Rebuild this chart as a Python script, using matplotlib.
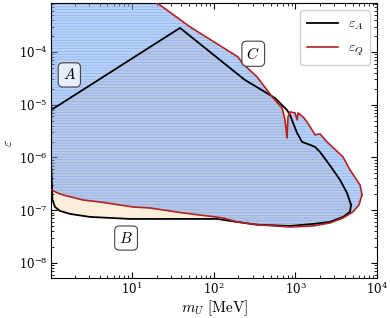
import matplotlib
matplotlib.use('Agg')
import matplotlib.pyplot as plt
import numpy as np

#-------------------------------------------------------------------------
# Configure matplotlib
#-------------------------------------------------------------------------

plt.rcParams['font.family']      = 'serif'
plt.rcParams['font.serif']       = ['DejaVu Serif']
plt.rcParams['mathtext.fontset'] = 'cm'
plt.rcParams['font.size']        = 9
plt.rcParams['hatch.linewidth']  = 0.5

#-------------------------------------------------------------------------
# Raw data (boundaries of the excluded regions, m in MeV)
#-------------------------------------------------------------------------

# epsilon_A contour (black)

m_A_upper   = [ 0.9, 1.022, 38.7, 119, 241, 562, 789, 859, 935, 1047,
                1205, 1510, 1738, 2000, 2729, 3515, 4283, 4794 ]
eps_A_upper = [ 6.97e-6, 7.9e-6, 2.85e-4, 7.05e-5, 2.94e-5, 1.34e-5, 7.9e-6,
                6.4e-6, 4.51e-6, 2.91e-6, 1.97e-6, 1.73e-6, 1.58e-6, 1.27e-6,
                6.6e-7, 3.74e-7, 2.12e-7, 1.26e-7 ]

m_A_lower   = [ 0.9, 1.03, 1.045, 1.06, 1.14, 1.31, 1.74, 3.06, 9.46, 110,
                193, 339, 859, 1642, 2652, 3826, 4660, 4794 ]
eps_A_lower = [ 6e-7, 6e-7, 3.3e-7, 1.6e-7, 1.15e-7, 9.7e-8, 8.5e-8, 7.45e-8,
                6.83e-8, 6.83e-8, 5.99e-8, 5.3e-8, 5.03e-8, 5.48e-8, 5.99e-8,
                7.45e-8, 9.3e-8, 1.26e-7 ]

# epsilon_Q contour (red)

m_Q_upper   = [ 0.9, 10, 20.2, 51.3, 198, 222, 339, 532, 685, 746, 789, 812,
                859, 989, 1047, 1076, 1239, 1387, 1597, 1738, 2000, 2437,
                3826, 4660, 6180, 6531 ]
eps_Q_upper = [ 3e-3, 1.88e-3, 8.5e-4, 2.98e-4, 8.04e-5, 6.19e-5, 3.36e-5,
                1.34e-5, 8.68e-6, 5.14e-6, 2.34e-6, 5.86e-6, 7.29e-6, 6.98e-6,
                5.14e-6, 6.98e-6, 5.86e-6, 4.71e-6, 3.32e-6, 2.67e-6, 2.79e-6,
                1.97e-6, 1.02e-6, 5.79e-7, 3.01e-7, 1.95e-7 ]

m_Q_lower   = [ 0.9, 1.022, 1.31, 1.60, 2.51, 4.06, 10.3, 16.6, 42.1, 130,
                193, 369, 859, 1642, 2652, 3826, 5070, 6000, 6531 ]
eps_Q_lower = [ 2.42e-7, 2.42e-7, 2.03e-7, 1.86e-7, 1.56e-7, 1.43e-7, 1.15e-7,
                1.10e-7, 8.87e-8, 7.13e-8, 5.99e-8, 5.25e-8, 4.81e-8, 5.03e-8,
                5.73e-8, 7.13e-8, 9.3e-8, 1.26e-7, 1.95e-7 ]

# Region labels

labels = [ 'A', 'B', 'C' ]

#-------------------------------------------------------------------------
# Create plot
#-------------------------------------------------------------------------

fig = plt.figure( figsize=(3.9, 3.18), dpi=100 )
ax  = fig.add_axes( [0.131, 0.126, 0.836, 0.865] )

# Filled regions

ax.fill( m_A_upper + m_A_lower[::-1], eps_A_upper + eps_A_lower[::-1],
         facecolor='#fbeedb', edgecolor='none', zorder=1 )

ax.fill( m_Q_upper + m_Q_lower[::-1], eps_Q_upper + eps_Q_lower[::-1],
         facecolor=(0.47, 0.65, 0.94, 0.5), edgecolor=(0.40, 0.60, 0.94, 0.55),
         hatch='------', linewidth=0, zorder=2 )

# Boundary lines

line_A, = ax.plot( m_A_upper, eps_A_upper, color='k', lw=1.3, zorder=3 )
ax.plot( m_A_lower, eps_A_lower, color='k', lw=1.3, zorder=3 )
line_Q, = ax.plot( m_Q_upper, eps_Q_upper, color='#b22222', lw=1.2, zorder=4 )
ax.plot( m_Q_lower, eps_Q_lower, color='#b22222', lw=1.2, zorder=4 )

# Axes

ax.set_xscale('log')
ax.set_yscale('log')
ax.set_xlim( 1.022, 1e4 )
ax.set_ylim( 5.2e-9, 8.5e-4 )

ax.set_xlabel( r'$m_U\ [\mathrm{MeV}]$', fontsize=11, labelpad=1 )
ax.set_ylabel( r'$\varepsilon$', fontsize=10 )
ax.yaxis.set_label_coords( -0.112, 0.49 )

ax.tick_params( which='both', direction='in', top=True, right=True )
ax.tick_params( which='major', length=4, labelsize=8.5, pad=2.5 )
ax.tick_params( which='minor', length=2 )
ax.yaxis.set_major_locator( matplotlib.ticker.LogLocator( base=10, numticks=20 ) )
ax.yaxis.set_minor_locator( matplotlib.ticker.LogLocator( base=10,
                            subs=np.arange(2, 10), numticks=20 ) )

# Region labels

box = dict( boxstyle='round,pad=0.3', facecolor=(1, 1, 1, 0.7),
            edgecolor='#444444', linewidth=0.8 )
pos = [ (0.056, 0.738), (0.23, 0.145), (0.62, 0.815) ]
for lab, (x, y) in zip( labels, pos ):
  ax.text( x, y, '$' + lab + '$', transform=ax.transAxes, ha='center',
           va='center', fontsize=11, bbox=box, zorder=5 )

# Legend

ax.legend( [line_A, line_Q], [r'$\varepsilon_A$', r'$\varepsilon_Q$'],
           loc='upper right', fontsize=10, handlelength=2.2,
           labelspacing=0.6, borderpad=0.5, handletextpad=0.7,
           edgecolor='#cccccc', framealpha=0.9 )

fig.savefig( 'out.png', dpi=100 )
